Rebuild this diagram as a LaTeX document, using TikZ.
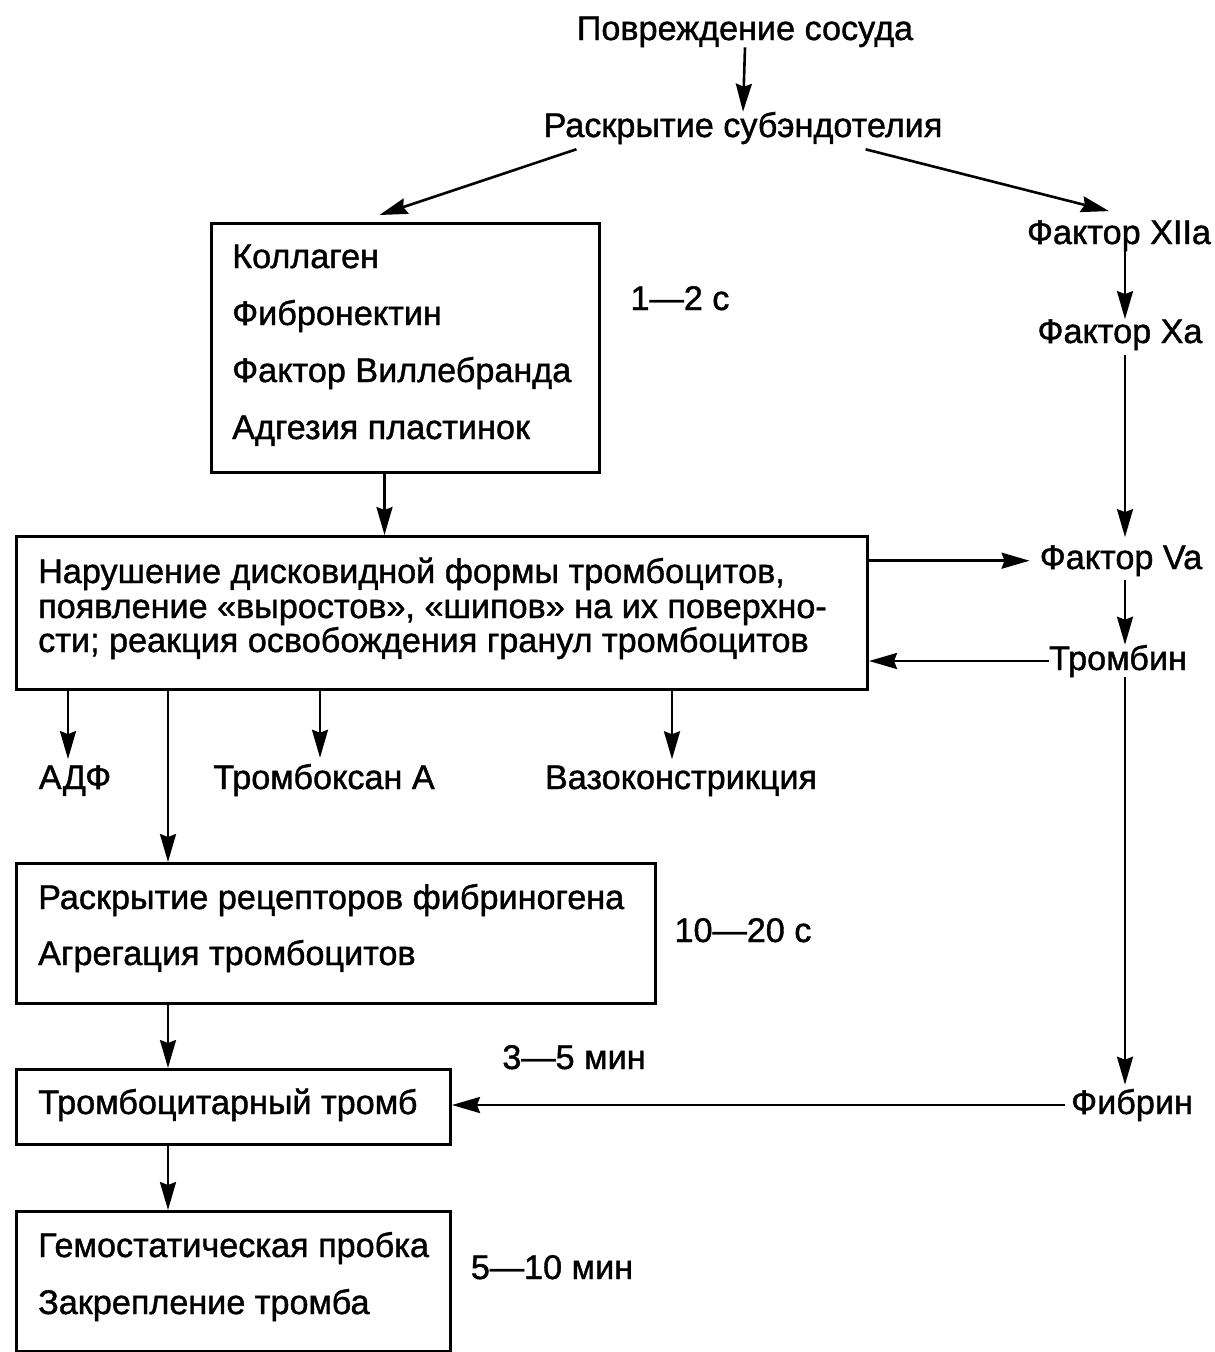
\documentclass[tikz,border=0pt]{standalone}
\usepackage{fontspec}
\setmainfont{Liberation Sans}[FakeBold=1.2]
\usetikzlibrary{arrows.meta,calc}
\begin{document}
\begin{tikzpicture}[x=1pt,y=-1pt,
  lbl/.style={font=\fontsize{34.2}{40}\selectfont, inner sep=0pt, anchor=base},
  txt/.style={lbl, anchor=base west},
  box/.style={draw, line width=3pt, anchor=north west, inner sep=0pt},
  arr/.style={line width=2.6pt, -{Stealth[length=28pt,width=16pt,inset=3pt]}}]
\useasboundingbox (0,0) rectangle (1215,1352);
\coordinate (cx) at (1125,0);

% top of the chain
\node[lbl] (dmg) at (745,40) {Повреждение сосуда};
\node[lbl] (sub) at (743,137) {Раскрытие субэндотелия};

% boxes
\node[box, minimum width=388pt, minimum height=249pt] (b1) at (210,222) {};
\node[box, minimum width=851pt, minimum height=153pt] (b2) at (15,535) {};
\node[box, minimum width=639pt, minimum height=140pt] (b3) at (15,862) {};
\node[box, minimum width=434pt, minimum height=75pt] (b4) at (15,1068) {};
\node[box, minimum width=434pt, minimum height=140pt] (b5) at (15,1210) {};

% box contents
\node[txt] (b1a) at (232,268) {Коллаген};
\node[txt] (b1b) at (232,325) {Фибронектин};
\node[txt] (b1c) at (232,382) {Фактор Виллебранда};
\node[txt] (b1d) at (232,439) {Адгезия пластинок};
\node[txt] (b2a) at (38,583) {Нарушение дисковидной формы тромбоцитов,};
\node[txt] (b2b) at (38,618) {появление «выростов», «шипов» на их поверхно-};
\node[txt] (b2c) at (38,652) {сти; реакция освобождения гранул тромбоцитов};
\node[txt] (b3a) at (38,909) {Раскрытие рецепторов фибриногена};
\node[txt] (b3b) at (38,965) {Агрегация тромбоцитов};
\node[txt] (b4a) at (38,1114) {Тромбоцитарный тромб};
\node[txt] (b5a) at (38,1257) {Гемостатическая пробка};
\node[txt] (b5b) at (38,1314) {Закрепление тромба};

% times
\node[lbl] (t1) at (680,310) {1—2 с};
\node[lbl] (t2) at (743,942) {10—20 с};
\node[lbl] (t3) at (574,1069) {3—5 мин};
\node[lbl] (t4) at (552,1279) {5—10 мин};

% products of the platelet reaction
\node[lbl] (adp) at (75,789) {АДФ};
\node[lbl] (txa) at (324,789) {Тромбоксан А};
\node[lbl] (vaso) at (681,789) {Вазоконстрикция};

% coagulation column
\node[lbl] (f12) at (1119,244) {Фактор XIIa};
\node[lbl] (f10) at (1120,343) {Фактор Xa};
\node[lbl] (f5) at (1121,569) {Фактор Va};
\node[lbl] (thr) at (1118,670) {Тромбин};
\node[lbl] (fib) at (1132,1114) {Фибрин};

% connectors
\draw[arr] (dmg.south) -- (sub.north);
\draw[arr] ([xshift=33pt,yshift=-5pt]sub.south west) -- ([xshift=-26pt,yshift=7pt]b1.north);
\draw[arr] ([xshift=-77pt,yshift=-5pt]sub.south east) -- ([xshift=-10pt,yshift=9pt]f12.north);
\draw[arr] ([xshift=-21pt]b1.south) -- ([xshift=-21pt]b1.south |- b2.north);

\draw[arr] (cx |- f12.south) -- (cx |- f10.north);
\draw[arr, shorten >=8pt] ([yshift=-5pt]cx |- f10.south) -- (cx |- f5.north);
\draw[arr] ([yshift=-4pt]cx |- f5.south) -- (cx |- thr.north);
\draw[arr, shorten >=4pt] (cx |- thr.south) -- (cx |- fib.north);

\draw[arr, shorten >=10pt] (b2.east |- f5.west) -- (f5.west);
\draw[arr] (thr.west) -- (b2.east |- thr.west);
\draw[arr, shorten <=6pt] (fib.west) -- (b4.east |- fib.west);

\draw[arr, shorten >=6pt] (b2.south -| 68,0) -- (68,0 |- adp.north);
\draw[arr, shorten >=6pt] (b2.south -| 320,0) -- (320,0 |- txa.north);
\draw[arr, shorten >=6pt] (b2.south -| 672,0) -- (672,0 |- vaso.north);
\draw[arr] (b2.south -| 168,0) -- (b3.north -| 168,0);
\draw[arr] (b3.south -| 168,0) -- (b4.north -| 168,0);
\draw[arr] (b4.south -| 168,0) -- (b5.north -| 168,0);
\end{tikzpicture}
\end{document}
